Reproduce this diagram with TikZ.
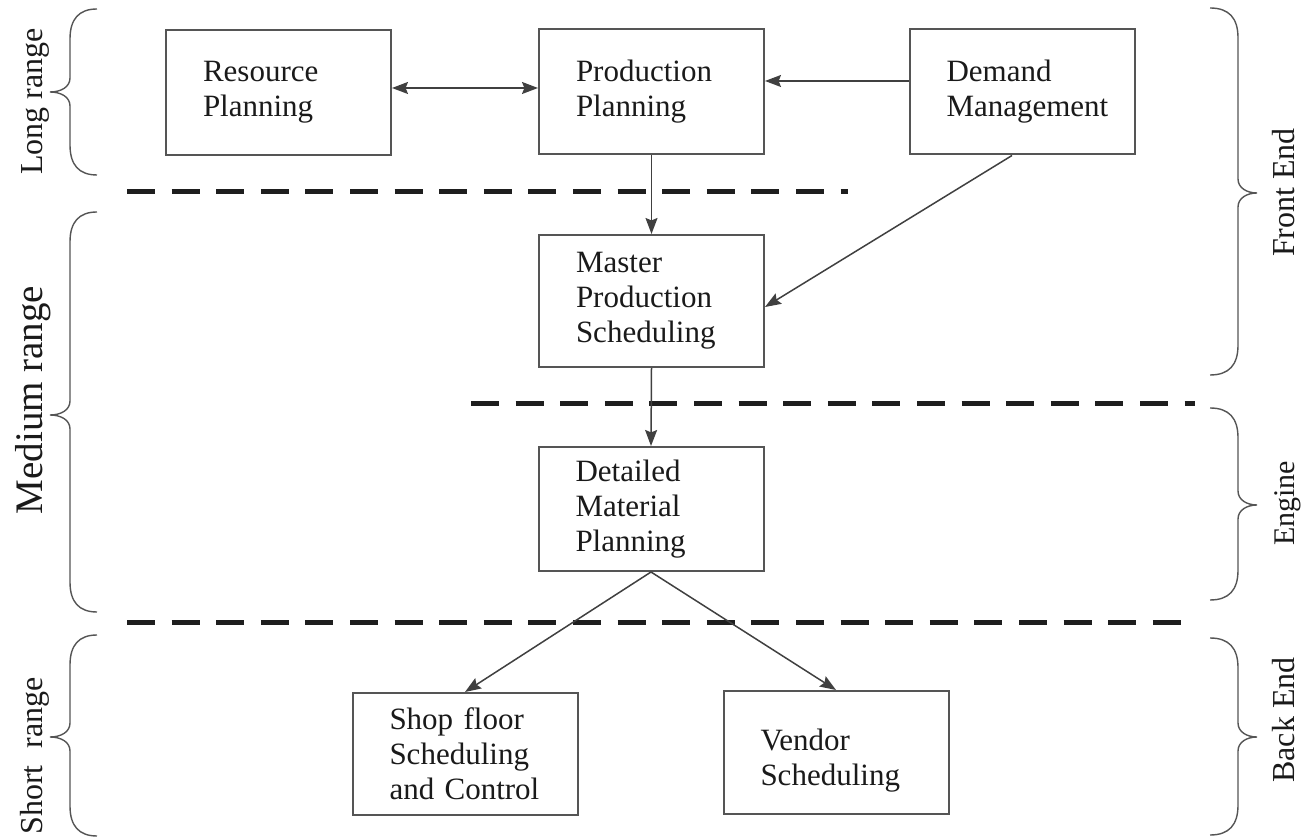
\documentclass[tikz,border=0pt]{standalone}
\usepackage{fontspec}
\setmainfont{Liberation Serif}
\usetikzlibrary{arrows.meta,calc}

\definecolor{boxline}{HTML}{555555}
\definecolor{arrowline}{HTML}{404040}
\definecolor{dashink}{HTML}{1E1E1E}
\definecolor{inktext}{HTML}{1A1A1A}

% curly bracket opening to the right: top y, tip y, bottom y
\newcommand\leftcurly[3]{%
  \draw[bracket] (97,#1) .. controls (79,#1) and (70,{#1+10}) .. (70,{#1+30})
    -- (70,{#2-14}) .. controls (70,{#2-5}) and (61,#2) .. (50,#2)
    .. controls (61,#2) and (70,{#2+5}) .. (70,{#2+14})
    -- (70,{#3-30}) .. controls (70,{#3-10}) and (79,#3) .. (97,#3);}
% curly bracket opening to the left
\newcommand\rightcurly[3]{%
  \draw[bracket] (1210,#1) .. controls (1229,#1) and (1238,{#1+10}) .. (1238,{#1+30})
    -- (1238,{#2-14}) .. controls (1238,{#2-5}) and (1247,#2) .. (1257,#2)
    .. controls (1247,#2) and (1238,{#2+5}) .. (1238,{#2+14})
    -- (1238,{#3-30}) .. controls (1238,{#3-10}) and (1229,#3) .. (1210,#3);}

\begin{document}
\hyphenpenalty=10000\relax
\exhyphenpenalty=10000\relax
\begin{tikzpicture}[x=0.5pt,y=-0.5pt,
  block/.style={draw=boxline, line width=1pt, fill=white, text=inktext,
    text width=75.5pt, inner xsep=18.5pt, inner ysep=0pt, align=left,
    font=\fontsize{15.5pt}{17.5pt}\selectfont},
  flow/.style={draw=arrowline, line width=0.75pt,
    -{Stealth[length=8pt,width=6pt,inset=1.2pt]}},
  bothflow/.style={flow, {Stealth[length=8pt,width=6pt,inset=1.2pt]}-{Stealth[length=8pt,width=6pt,inset=1.2pt]}},
  horizon/.style={draw=dashink, line width=2.5pt, dash pattern=on 14pt off 8.3pt},
  bracket/.style={draw=boxline, line width=0.7pt},
  sidelabel/.style={rotate=90, anchor=base, text=inktext, inner sep=0pt,
    font=\fontsize{16pt}{18pt}\selectfont}]

\path[use as bounding box] (0,0) rectangle (1311,838);

% planning horizons
\draw[horizon] (127,192) -- (848,192);
\draw[horizon] (471,404) -- (1195,404);
\draw[horizon] (127,623) -- (1190,623);

% planning functions
\node[block, minimum height=62.5pt] (res) at (278.5,92.5) {Resource\\Planning};
\node[block, minimum height=62.5pt] (pp)  at (651.5,91.5) {Production\\Planning};
\node[block, minimum height=62.5pt] (dm)  at (1022,92)    {Demand\\Management};
\node[block, minimum height=66pt]   (mps) at (651.5,301)  {Master\\Production\\Scheduling};
\node[block, minimum height=62pt]   (dmp) at (651,509)    {Detailed\\Material\\Planning};
\node[block, minimum height=61pt]   (sfc) at (465,754)    {Shop floor\\Scheduling\\and Control};
\node[block, minimum height=61.5pt] (vs)  at (836,752.5)  {\rule{0pt}{18.6pt}Vendor\\Scheduling};

% information flow
\draw[bothflow] ([yshift=2.25pt]res.east) -- ([yshift=2.25pt]res.east -| pp.west);
\draw[flow] ([yshift=5.5pt]dm.west) -- ([yshift=5.5pt]dm.west -| pp.east);
\draw[flow] (pp.south) -- (mps.north);
\draw[flow] ([xshift=-5pt]dm.south) -- ([yshift=-3pt]mps.east);
\draw[flow] (mps.south) -- (dmp.north);
\draw[flow] (dmp.south) -- (sfc.north);
\draw[flow] (dmp.south) -- (vs.north);

% time ranges
\leftcurly{9}{92}{175}
\leftcurly{212}{415}{612}
\leftcurly{635}{737}{836}
\node[sidelabel] (long) at (42,101.5) {Long range};
\node[sidelabel, font=\fontsize{19.5pt}{21pt}\selectfont] (medium) at (42,400) {Medium range};
\node[sidelabel] (short) at (42,756) {Short\hspace{8.5pt}range};

% system sections
\rightcurly{8}{193}{375}
\rightcurly{408}{505}{600}
\rightcurly{638}{737}{835}
\node[sidelabel] (front) at (1294,192.5) {Front End};
\node[sidelabel, font=\fontsize{15pt}{17pt}\selectfont] (engine) at (1294,503.5) {Engine};
\node[sidelabel] (back) at (1294,720) {Back End};

\end{tikzpicture}
\end{document}
